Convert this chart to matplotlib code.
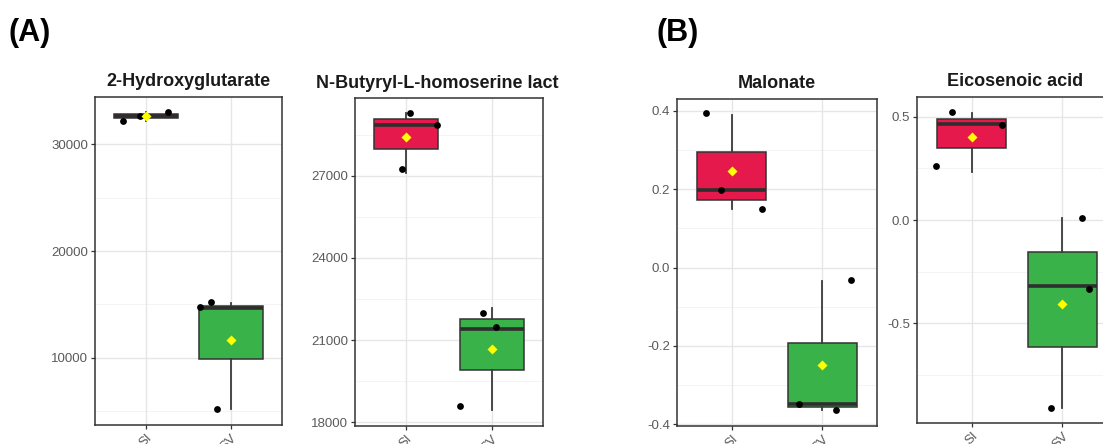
import numpy as np
import matplotlib
matplotlib.use("Agg")
import matplotlib.pyplot as plt
from matplotlib.ticker import FixedLocator

# ---------------- data ----------------
groups = ["SI", "SV"]
titles = ["2-Hydroxyglutarate", "N-Butyryl-L-homoserine lact", "Malonate", "Eicosenoic acid"]

# underlying values per group (boxes and means)
hg_SI = [32200, 32650, 33050]
hg_SV = [5165, 14630, 15100]
bhl_SI = [27090, 28850, 29300]
bhl_SV = [18460, 21390, 22160]
mal_SI = [0.148, 0.197, 0.390]
mal_SV = [-0.3635, -0.3475, -0.035]
eic_SI = [0.234, 0.463, 0.516]
eic_SV = [-0.908, -0.320, 0.008]

# jittered points as drawn (value, horizontal jitter)
hg_SI_pts = [32180, 32650, 33060];  hg_SI_jit = [-0.27, -0.07, 0.26]
hg_SV_pts = [14720, 15250, 5190];   hg_SV_jit = [-0.36, -0.24, -0.16]
bhl_SI_pts = [29277, 28840, 27234]; bhl_SI_jit = [0.04, 0.36, -0.05]
bhl_SV_pts = [21973, 21460, 18587]; bhl_SV_jit = [-0.105, 0.05, -0.37]
mal_SI_pts = [0.395, 0.1965, 0.148]; mal_SI_jit = [-0.28, -0.12, 0.33]
mal_SV_pts = [-0.032, -0.3475, -0.3635]; mal_SV_jit = [0.31, -0.26, 0.15]
eic_SI_pts = [0.524, 0.261, 0.46]; eic_SI_jit = [-0.21, -0.39, 0.34]
eic_SV_pts = [0.008, -0.332, -0.911]; eic_SV_jit = [0.22, 0.29, -0.13]

panels = [
    dict(vals=[hg_SI, hg_SV], pts=[hg_SI_pts, hg_SV_pts], jit=[hg_SI_jit, hg_SV_jit],
         major=[10000, 20000, 30000], minor=[5000, 15000, 25000], labels=["10000", "20000", "30000"],
         ylim=(3700, 34430), rect=(95, 282, 97, 425), tx=0.5),
    dict(vals=[bhl_SI, bhl_SV], pts=[bhl_SI_pts, bhl_SV_pts], jit=[bhl_SI_jit, bhl_SV_jit],
         major=[18000, 21000, 24000, 27000], minor=[19500, 22500, 25500, 28500],
         labels=["18000", "21000", "24000", "27000"],
         ylim=(17865, 29836), rect=(355, 543, 98, 426), tx=0.436),
    dict(vals=[mal_SI, mal_SV], pts=[mal_SI_pts, mal_SV_pts], jit=[mal_SI_jit, mal_SV_jit],
         major=[-0.4, -0.2, 0.0, 0.2, 0.4], minor=[-0.3, -0.1, 0.1, 0.3],
         labels=["-0.4", "-0.2", "0.0", "0.2", "0.4"],
         ylim=(-0.404, 0.4297), rect=(677, 877, 99, 426), tx=0.5),
    dict(vals=[eic_SI, eic_SV], pts=[eic_SI_pts, eic_SV_pts], jit=[eic_SI_jit, eic_SV_jit],
         major=[-0.5, 0.0, 0.5], minor=[-0.75, -0.25, 0.25],
         labels=["-0.5", "0.0", "0.5"],
         ylim=(-0.982, 0.5956), rect=(917, 1117, 97, 423), tx=0.49),
]

box_colors = ["#E5194C", "#3AB24A"]

W, H = 1103, 444
plt.rcParams['font.family'] = ['Liberation Sans', 'DejaVu Sans']
fig = plt.figure(figsize=(W / 100, H / 100), dpi=100)
fig.patch.set_facecolor("white")

for p, title in zip(panels, titles):
    l, r, t, b = p["rect"]
    ax = fig.add_axes([l / W, 1 - b / H, (r - l) / W, (b - t) / H])
    ax.set_xlim(0.4, 2.6)
    ax.set_ylim(*p["ylim"])
    # grid
    for y in p["minor"]:
        ax.axhline(y, color="#F2F2F2", lw=0.6, zorder=0)
    for y in p["major"]:
        ax.axhline(y, color="#E6E6E6", lw=1.0, zorder=0)
    for x in [1, 2]:
        ax.axvline(x, color="#E6E6E6", lw=1.0, zorder=0)

    bp = ax.boxplot(p["vals"], positions=[1, 2], widths=0.75, patch_artist=True,
                    showcaps=False, showfliers=False, whis=(0, 100),
                    medianprops=dict(color="#2E2E2E", lw=2.6),
                    whiskerprops=dict(color="#3A3A3A", lw=1.3),
                    boxprops=dict(edgecolor="#333333", lw=1.1), zorder=2)
    for patch, c in zip(bp["boxes"], box_colors):
        patch.set_facecolor(c)

    for i, (pts, jit) in enumerate(zip(p["pts"], p["jit"])):
        xs = [i + 1 + j for j in jit]
        ax.scatter(xs, pts, s=24, color="black", zorder=4, linewidths=0)
        ax.scatter([i + 1], [np.mean(p["vals"][i])], marker="D", s=26, color="#FFFF00",
                   zorder=5, linewidths=0)

    ax.yaxis.set_major_locator(FixedLocator(p["major"]))
    ax.set_yticklabels(p["labels"])
    ax.set_xticks([1, 2])
    ax.set_xticklabels(groups, rotation=45, ha="right", va="top", rotation_mode="anchor")
    ax.tick_params(axis="both", labelsize=9.5, labelcolor="#5A5A5A", color="#333333",
                   length=3, width=0.9, pad=2)
    for s in ax.spines.values():
        s.set_color("#333333")
        s.set_linewidth(1.1)
    ax.text(p["tx"], 1.0 + 15 / (b - t), title, transform=ax.transAxes, ha="center",
            va="center", fontsize=13, fontweight="bold", color="#1A1A1A")

fig.text(30 / W, 1 - 33 / H, "(A)", ha="center", va="center", fontsize=22, fontweight="bold")
fig.text(678 / W, 1 - 33 / H, "(B)", ha="center", va="center", fontsize=22, fontweight="bold")

fig.savefig("out.png", dpi=100, facecolor="white")
